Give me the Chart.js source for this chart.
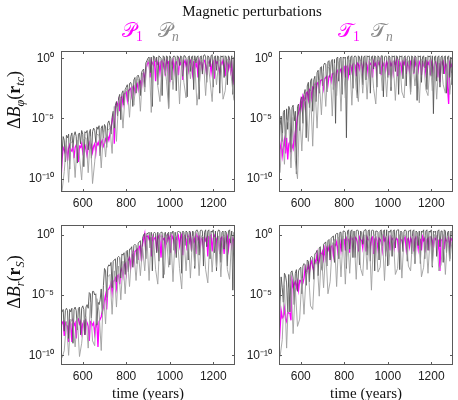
<!DOCTYPE html>
<html><head><meta charset="utf-8">
<script src="https://cdn.jsdelivr.net/npm/chart.js@4.4.1/dist/chart.umd.min.js"></script>
<style>
body{margin:0;background:#fff;}
#wrap{position:relative;width:458px;height:400px;overflow:hidden;background:#fff}
canvas{position:absolute;left:0;top:0}
.t{position:absolute;white-space:nowrap;font-family:'Liberation Serif','DejaVu Serif',serif;color:#111}
.t sub{font-size:68%;vertical-align:-0.3em;line-height:0}
.yl{width:200px;text-align:center;transform:rotate(-90deg);font-size:18px;line-height:22px}
.lg{font-size:20px;line-height:24px}
</style></head>
<body><div id="wrap">
<canvas id="c1" width="458" height="400"></canvas>
<canvas id="c2" width="458" height="400"></canvas>
<canvas id="c3" width="458" height="400"></canvas>
<canvas id="c4" width="458" height="400"></canvas>
<div class="t" style="left:152px;top:3px;width:200px;text-align:center;font-size:15px;line-height:17px">Magnetic perturbations</div>
<div class="t lg" style="left:122px;top:18px;color:#ff00ff">𝒫<sub>1</sub></div>
<div class="t lg" style="left:158px;top:18px;color:#8a8a8a">𝒫<sub><i>n</i></sub></div>
<div class="t lg" style="left:338px;top:18px;color:#ff00ff">𝒯<sub>1</sub></div>
<div class="t lg" style="left:371px;top:18px;color:#8a8a8a">𝒯<sub><i>n</i></sub></div>
<div class="t yl" style="left:-86px;top:89px">Δ<i>B</i><sub><i>φ</i></sub>(<b>r</b><sub><i>tc</i></sub>)</div>
<div class="t yl" style="left:-86px;top:271px">Δ<i>B</i><sub><i>r</i></sub>(<b>r</b><sub><i>S</i></sub>)</div>
<div class="t" style="left:98px;top:385px;width:100px;text-align:center;font-size:15px;line-height:17px">time (years)</div>
<div class="t" style="left:316px;top:385px;width:100px;text-align:center;font-size:15px;line-height:17px">time (years)</div>
</div>
<script>
// ---- x positions (years) ----
const yearsF = [
 500,505,510,515,520,525,530,535,540,545,
 550,555,560,565,570,575,580,585,590,595,
 600,605,610,615,620,625,630,635,640,645,
 650,655,660,665,670,675,680,685,690,695,
 700,705,710,715,720,725,730,735,740,745,
 750,755,760,765,770,775,780,785,790,795,
 800,805,810,815,820,825,830,835,840,845,
 850,855,860,865,870,875,880,885,890,895,
 900,905,910,915,920,925,930,935,940,945,
 950,955,960,965,970,975,980,985,990,995,
 1000,1005,1010,1015,1020,1025,1030,1035,1040,1045,
 1050,1055,1060,1065,1070,1075,1080,1085,1090,1095,
 1100,1105,1110,1115,1120,1125,1130,1135,1140,1145,
 1150,1155,1160,1165,1170,1175,1180,1185,1190,1195,
 1200,1205,1210,1215,1220,1225,1230,1235,1240,1245,
 1250,1255,1260,1265,1270,1275,1280,1285,1290,1295,
 1300];
const yearsB = [
 505,515,525,535,545,555,565,575,585,595,
 605,615,625,635,645,655,665,675,685,695,
 705,715,725,735,745,755,765,775,785,795,
 805,815,825,835,845,855,865,875,885,895,
 905,915,925,935,945,955,965,975,985,995,
 1005,1015,1025,1035,1045,1055,1065,1075,1085,1095,
 1105,1115,1125,1135,1145,1155,1165,1175,1185,1195,
 1205,1215,1225,1235,1245,1255,1265,1275,1285,1295];

// ---- series values, stored as log10 of the perturbation ----
// ΔB_phi(r_tc), poloidal modes
const tcPnDark = [
 -10.5,-7.8,-6.5,-6.8,-8.6,-6.4,-6.6,-6.3,-9.2,-6.5,
 -6.2,-7.4,-6.4,-6.1,-6.5,-8.7,-6.3,-6.2,-7.1,-6.0,
 -6.3,-9.0,-6.1,-6.2,-6.0,-7.6,-6.2,-5.9,-8.3,-6.1,
 -5.8,-6.0,-7.0,-5.7,-5.9,-5.6,-8.1,-5.8,-5.6,-6.6,
 -5.5,-5.7,-7.4,-5.4,-5.2,-5.6,-6.3,-4.9,-4.4,-5.8,
 -3.9,-3.6,-4.8,-3.3,-3.0,-5.1,-2.9,-2.7,-3.9,-2.6,
 -2.4,-2.2,-3.6,-2.1,-2.0,-2.3,-4.0,-1.8,-1.6,-2.9,
 -1.5,-1.4,-1.7,-3.1,-1.2,-1.0,-0.9,-2.4,-0.4,-0.2,
 0.0,0.1,-1.2,0.1,-4.0,0.2,0.1,-0.3,0.1,-2.2,
 0.2,0.1,0.0,-3.1,0.2,0.1,-1.4,0.2,0.1,-4.1,
 0.2,0.0,-1.8,0.1,0.2,0.1,-2.7,0.2,0.1,-0.6,
 0.2,0.1,-1.5,0.2,0.2,0.0,-3.2,0.1,0.2,-1.1,
 0.1,0.2,-2.6,0.2,-0.4,0.1,0.2,-3.4,0.1,0.2,
 -1.3,0.2,0.3,0.1,-2.0,0.2,0.1,-0.7,0.2,0.3,
 -2.4,0.1,0.2,-1.0,0.2,0.1,-2.9,0.2,0.1,0.2,
 -1.6,0.2,0.1,-2.2,0.2,0.0,-0.8,0.2,-3.0,0.1,
 0.1];
const tcPnLight = [
 -11.0,-9.4,-7.0,-10.3,-6.9,-7.1,-9.9,-6.8,-8.2,-10.1,
 -6.7,-6.6,-9.5,-6.5,-10.4,-8.6,-6.3,-6.4,-9.1,-6.1,
 -8.2,-6.0,-5.8,-7.9,-4.0,-6.9,-3.5,-3.3,-5.8,-2.9,
 -2.4,-4.9,-2.1,-3.9,-1.8,-1.7,-4.4,-1.2,-2.8,-0.4,
 -0.1,-4.5,-0.2,-0.1,-2.3,-3.6,-0.1,-0.2,-1.9,-4.2,
 -0.1,-2.6,-0.2,-0.1,-3.8,-0.2,-2.0,-3.3,-0.1,-1.7,
 -0.1,-0.2,-3.9,-2.4,-0.1,-0.2,-3.1,-0.1,-1.8,-3.6,
 -0.1,-2.2,-0.2,-0.1,-3.4,-2.7,-0.1,-0.2,-1.9,-3.5];
const tcP1 = [
 -10.2,-8.4,-7.4,-7.6,-7.9,-7.3,-8.5,-7.5,-7.2,-7.6,
 -7.7,-7.3,-8.3,-7.4,-7.2,-7.5,-8.6,-7.3,-7.4,-7.1,
 -7.8,-7.3,-7.2,-7.6,-8.1,-7.3,-7.0,-7.4,-7.2,-7.8,
 -7.3,-7.1,-7.9,-7.0,-7.2,-6.9,-7.6,-7.0,-6.8,-7.3,
 -7.1,-6.7,-6.9,-6.5,-6.8,-6.3,-5.8,-5.2,-4.6,-7.1,
 -4.2,-3.7,-3.9,-3.5,-4.4,-3.3,-3.2,-3.8,-3.0,-2.9,
 -2.8,-3.5,-2.7,-2.6,-2.5,-3.1,-2.4,-2.3,-2.8,-2.2,
 -2.1,-2.6,-2.0,-1.9,-2.4,-1.6,-1.3,-1.9,-0.9,-0.6,
 -0.3,-0.5,-1.6,-0.2,-0.4,-0.6,-0.3,-1.9,-0.2,-0.5,
 -0.4,-1.2,-0.3,-0.2,-0.7,-0.3,-1.5,-0.2,-0.4,-0.3,
 -2.0,-0.3,-0.5,-0.2,-1.1,-0.4,-0.3,-0.6,-1.4,-0.2,
 -0.5,-0.3,-1.8,-0.4,-0.2,-0.6,-0.3,-1.0,-0.4,-0.2,
 -0.5,-1.3,-0.3,-0.2,-0.7,-0.4,-1.6,-0.2,-0.5,-0.3,
 -1.0,-0.3,-0.2,-0.6,-1.4,-0.3,-0.4,-0.2,-1.2,-0.5,
 -0.3,-1.7,-0.2,-0.4,-0.3,-0.8,-1.2,-0.3,-0.5,-0.2,
 -0.6,-1.5,-0.3,-0.4,-0.9,-0.3,-1.1,-0.5,-2.2,-1.4,
 -0.7];

// ΔB_phi(r_tc), toroidal modes
const tcTnDark = [
 -8.0,-5.6,-4.8,-6.9,-4.5,-4.3,-7.4,-4.2,-5.9,-4.0,
 -4.3,-7.8,-4.1,-3.9,-5.2,-4.4,-9.6,-4.0,-3.8,-6.0,
 -3.5,-3.2,-5.4,-3.0,-2.6,-6.6,-2.3,-2.0,-4.1,-1.9,
 -1.7,-4.4,-1.8,-1.5,-3.6,-1.2,-1.0,-2.9,-0.8,-0.7,
 -2.3,-0.6,-0.4,-0.5,-2.8,-0.3,-0.2,-1.6,-0.3,-0.1,
 -2.6,-0.1,-5.4,0.0,0.1,-1.9,0.0,0.1,-3.0,0.1,
 0.0,0.1,-6.6,0.1,0.2,-1.4,0.1,0.2,-2.5,0.1,
 0.2,0.1,-3.3,0.2,0.1,-0.6,0.2,-2.2,0.1,0.2,
 -1.8,0.2,0.1,0.2,-2.9,0.1,0.2,-0.9,0.2,0.1,
 -2.4,0.2,0.1,-1.3,0.2,0.2,-3.2,0.1,0.2,0.1,
 -1.6,0.2,0.1,-2.7,0.2,0.1,0.2,-1.1,0.2,0.1,
 -3.0,0.2,0.1,0.2,-1.7,0.1,0.2,-2.3,0.1,0.2,
 0.1,-2.8,0.2,0.1,-1.2,0.2,0.1,-3.5,0.2,0.1,
 0.2,-2.0,0.1,0.2,-0.8,0.1,-2.6,0.2,0.1,0.2,
 -1.5,0.2,-4.6,0.1,0.2,-1.9,0.1,0.2,-2.4,0.1,
 0.2,-1.3,0.1,0.2,-2.9,0.1,0.2,-1.6,0.1,-2.2,
 0.2];
const tcTnLight = [
 -9.5,-6.2,-8.8,-5.1,-5.4,-9.1,-4.9,-8.5,-10.0,-4.6,
 -7.7,-3.7,-3.4,-6.9,-2.7,-7.3,-2.2,-5.8,-1.8,-4.7,
 -1.1,-4.0,-0.8,-0.7,-4.8,-0.4,-3.1,-0.3,-4.4,-0.2,
 -3.3,-0.1,-0.2,-3.9,-0.1,-2.6,-3.6,-0.2,-2.9,-0.1,
 -3.4,-0.2,-0.1,-2.5,-3.8,-0.2,-0.1,-2.7,-0.2,-3.2,
 -0.1,-2.4,-0.2,-3.5,-0.1,-0.2,-2.8,-3.3,-0.1,-0.2,
 -3.0,-0.1,-2.3,-0.2,-3.7,-0.1,-0.2,-2.6,-3.1,-0.1,
 -2.7,-0.2,-3.4,-0.1,-0.2,-2.2,-2.9,-0.1,-3.0,-1.2];
const tcT1 = [
 -9.3,-7.6,-7.0,-8.1,-7.4,-6.8,-7.9,-6.6,-8.4,-7.1,
 -6.9,-7.7,-7.2,-7.5,-6.4,-7.0,-5.6,-4.8,-4.5,-4.2,
 -3.5,-4.1,-3.1,-3.3,-4.0,-2.9,-2.8,-3.4,-2.6,-2.7,
 -3.3,-2.4,-2.5,-2.2,-2.9,-2.1,-2.0,-2.6,-1.9,-1.8,
 -1.8,-2.5,-1.7,-1.6,-1.5,-2.2,-1.5,-1.4,-1.9,-1.3,
 -1.3,-1.2,-2.0,-1.1,-1.0,-1.6,-1.0,-0.9,-1.5,-0.8,
 -0.7,-1.6,-0.7,-0.6,-1.4,-0.5,-0.6,-1.1,-0.5,-0.4,
 -0.6,-1.5,-0.4,-0.5,-0.9,-0.3,-0.5,-1.2,-0.4,-0.6,
 -0.4,-0.6,-1.3,-0.3,-0.5,-0.4,-1.6,-0.3,-0.6,-0.4,
 -1.1,-0.3,-0.5,-0.2,-1.4,-0.4,-0.6,-0.3,-1.0,-0.3,
 -0.5,-1.4,-0.3,-0.6,-0.4,-1.2,-0.3,-0.5,-0.2,-1.5,
 -0.3,-0.6,-0.4,-1.1,-0.3,-0.5,-0.2,-1.3,-0.4,-0.6,
 -1.1,-0.3,-0.5,-0.3,-1.3,-0.2,-0.6,-0.4,-1.0,-0.3,
 -0.5,-1.4,-0.3,-0.6,-0.4,-1.2,-0.3,-0.5,-0.3,-1.4,
 -0.3,-0.6,-1.2,-0.4,-0.3,-0.7,-1.6,-0.4,-2.0,-0.3,
 -0.5,-0.3,-1.3,-0.4,-0.6,-2.4,-3.8,-0.4,-0.7,-0.5,
 -1.0];

// ΔB_r(r_S), poloidal modes
const sPnDark = [
 -6.5,-6.4,-6.2,-8.0,-6.3,-6.1,-6.3,-8.6,-6.2,-6.4,
 -6.1,-9.0,-6.2,-6.0,-6.3,-7.9,-6.1,-6.0,-8.3,-6.1,
 -5.9,-6.2,-8.3,-6.0,-5.8,-6.1,-4.8,-4.9,-6.9,-4.7,
 -4.7,-5.0,-4.9,-7.5,-5.6,-5.8,-5.4,-4.5,-6.6,-4.2,
 -2.8,-3.0,-5.2,-2.7,-2.5,-2.6,-2.3,-4.4,-2.2,-2.1,
 -2.0,-3.9,-1.9,-1.8,-1.9,-3.6,-1.6,-1.7,-1.5,-3.3,
 -1.4,-1.3,-3.1,-1.2,-1.2,-1.0,-2.7,-0.9,-0.8,-0.9,
 -2.4,-0.7,-0.6,-0.5,-2.2,-0.3,0.0,0.1,-2.0,0.1,
 0.1,0.2,-1.1,0.2,-3.0,0.1,0.2,0.1,-1.5,0.2,
 -2.2,0.1,0.2,0.2,-3.6,0.1,0.2,-0.8,0.1,0.2,
 -2.5,0.2,0.1,0.3,-1.3,0.2,-1.9,0.2,0.3,0.2,
 0.2,-3.2,0.3,0.2,-0.9,0.3,0.2,-2.1,0.3,0.2,
 -1.4,0.3,0.2,-2.8,0.3,0.4,0.2,-1.7,0.3,0.4,
 0.3,-2.6,0.2,0.4,-1.0,0.3,0.4,-2.0,0.3,0.2,
 0.4,-1.5,0.3,-3.0,0.2,0.4,0.3,-2.3,0.2,0.3,
 -1.2,0.3,0.2,-2.6,0.3,0.4,-0.7,0.3,-4.6,0.2,
 0.2];
const sPnLight = [
 -10.2,-9.6,-7.2,-10.0,-7.0,-7.3,-9.3,-6.9,-10.1,-9.0,
 -7.1,-6.8,-9.4,-5.6,-8.8,-9.2,-5.3,-6.4,-9.6,-4.8,
 -7.4,-3.5,-3.3,-6.6,-3.0,-6.0,-2.6,-5.4,-2.2,-4.9,
 -1.9,-4.3,-1.6,-1.4,-3.8,-1.3,-3.4,-1.0,-3.0,-0.2,
 -3.8,-0.1,-0.2,-2.9,-4.1,-0.1,-0.2,-3.3,-0.1,-2.7,
 -0.2,-3.9,-0.1,-0.2,-2.8,-4.5,-0.1,-3.0,-0.2,-3.6,
 -0.1,-2.6,-0.2,-3.4,-0.1,-0.2,-2.9,-4.0,-0.1,-3.1,
 -0.2,-2.7,-0.1,-3.5,-0.2,-0.1,-2.9,-3.7,-0.1,-4.4];
const sP1 = [
 -7.6,-7.3,-7.2,-8.4,-7.3,-7.5,-7.6,-8.9,-7.2,-7.4,
 -8.9,-7.2,-7.5,-7.3,-8.6,-7.1,-7.0,-7.4,-7.2,-8.1,
 -7.4,-7.2,-8.3,-7.1,-7.3,-7.6,-8.8,-7.2,-7.3,-7.5,
 -7.3,-8.2,-7.5,-7.4,-9.3,-7.2,-7.0,-6.8,-6.4,-6.0,
 -5.4,-5.0,-6.2,-4.6,-4.5,-4.3,-4.0,-4.8,-3.9,-3.8,
 -3.6,-4.4,-3.4,-3.3,-4.1,-3.0,-2.8,-3.4,-2.5,-2.4,
 -3.2,-2.2,-2.1,-1.9,-2.7,-1.8,-1.5,-2.3,-1.4,-1.3,
 -1.2,-2.1,-1.0,-0.9,-2.2,-0.8,-0.3,0.1,-1.3,-0.2,
 -0.1,-0.4,-0.3,-1.8,-0.2,-0.5,-0.3,-0.2,-1.4,-0.3,
 -0.1,-0.6,-1.9,-0.2,-0.4,-0.3,-1.1,-0.2,-0.5,-0.1,
 -0.4,-1.5,-0.1,-0.3,-0.5,-1.2,-0.2,-0.4,-0.1,-0.9,
 -0.2,0.0,-1.7,-0.3,-0.1,-0.4,-1.3,-0.2,-0.6,-0.1,
 -1.3,-0.2,-0.6,-0.3,-1.6,-0.1,-0.4,-0.2,-1.1,-0.3,
 -0.4,-1.0,-0.2,-0.5,-0.3,-1.8,-0.2,-0.3,-0.1,-1.4,
 -0.3,-0.1,-1.4,-0.4,-0.2,-0.5,-1.6,-0.3,-0.2,-0.6,
 -1.6,-0.3,-0.6,-0.2,-1.2,-0.4,-0.5,-1.0,-0.3,-0.5,
 -1.9];

// ΔB_r(r_S), toroidal modes
const sTnDark = [
 -9.0,-5.5,-3.5,-4.4,-5.6,-3.2,-3.4,-4.0,-6.4,-3.3,
 -6.4,-3.1,-3.0,-3.6,-5.8,-3.2,-2.9,-4.7,-3.0,-2.8,
 -2.7,-4.9,-2.6,-2.4,-2.5,-4.2,-2.1,-2.2,-3.9,-1.9,
 -1.8,-1.9,-3.7,-1.6,-1.5,-1.3,-3.4,-1.1,-1.0,-2.8,
 -3.0,-0.8,-0.7,-0.6,-2.6,-0.5,-0.4,-2.1,-0.3,-0.2,
 -0.1,-2.3,0.0,0.1,0.1,-2.0,0.2,0.2,-1.4,0.3,
 0.3,0.2,-2.8,0.3,0.4,-1.2,0.3,0.4,-1.9,0.3,
 -1.9,0.3,0.4,0.3,-2.5,0.3,0.2,-0.8,0.3,0.4,
 0.4,-1.7,0.3,0.4,-2.2,0.3,0.4,0.3,-3.0,0.3,
 0.3,0.2,-2.1,0.3,0.4,-0.9,0.3,0.4,-1.8,0.4,
 -2.6,0.3,0.2,0.4,-1.8,0.3,0.4,-1.1,0.3,0.4,
 0.4,-2.9,0.3,0.2,-1.4,0.3,0.4,0.3,-2.2,0.3,
 0.3,0.4,-1.6,0.3,0.4,-2.4,0.3,0.2,-0.9,0.3,
 -2.4,0.3,0.2,0.4,-2.0,0.3,0.4,-1.3,0.3,0.2,
 0.4,-2.7,0.3,0.2,0.3,-1.8,0.3,0.4,-1.0,0.3,
 0.3,-2.3,0.4,0.3,-1.5,0.2,0.3,-2.0,0.3,0.2,
 -1.5];
const sTnLight = [
 -10.1,-8.7,-4.2,-9.4,-4.5,-3.8,-8.2,-4.4,-7.6,-7.0,
 -3.6,-6.6,-3.2,-2.9,-5.9,-6.2,-2.5,-2.2,-5.1,-1.6,
 -4.4,-1.2,-4.9,-3.9,-0.8,-0.4,-4.3,-0.2,-3.5,-0.1,
 -4.1,0.0,-3.2,-0.1,-0.1,-3.7,0.0,-2.8,-3.4,0.0,
 -2.9,-0.1,-4.6,0.0,-0.1,-3.1,-2.7,0.0,-3.8,-0.1,
 -2.5,0.0,-0.1,-3.3,-2.8,0.0,-3.6,-0.1,0.0,-2.6,
 -3.0,-0.1,-2.4,0.0,-0.1,-3.5,-2.7,0.0,-3.2,-0.1,
 -2.6,0.0,-0.1,-3.0,-2.5,0.0,-3.3,-0.1,-2.2,-0.6];
const sT1 = [
 -9.4,-7.8,-6.3,-6.9,-6.8,-6.1,-7.0,-7.2,-6.4,-6.5,
 -6.5,-7.1,-3.8,-4.3,-4.1,-3.9,-4.4,-3.9,-4.6,-3.8,
 -3.8,-4.2,-4.0,-3.6,-2.8,-3.4,-2.9,-2.5,-3.1,-2.4,
 -2.2,-2.7,-3.0,-2.1,-2.3,-1.6,-2.5,-2.2,-1.5,-1.7,
 -1.4,-2.0,-1.2,-1.9,-1.1,-1.3,-1.0,-1.8,-1.0,-0.9,
 -1.7,-0.8,-0.9,-0.6,-1.4,-0.7,-0.5,-1.3,-0.5,-0.4,
 -0.4,-1.3,-0.3,-0.5,-0.4,-1.5,-0.2,-0.4,-0.3,-1.1,
 -0.2,-0.3,-0.6,-1.4,-0.2,-0.4,-0.5,-1.1,-0.3,-0.6,
 -1.4,-0.2,-0.4,-0.5,-1.0,-0.3,-0.2,-1.6,-0.4,-0.2,
 -0.5,-1.2,-0.3,-0.4,-0.6,-1.3,-0.2,-0.5,-0.3,-1.1,
 -0.6,-0.3,-1.3,-0.2,-0.4,-0.3,-1.1,-0.5,-0.3,-0.4,
 -1.5,-0.2,-0.4,-0.5,-1.0,-0.3,-0.2,-1.2,-0.4,-0.3,
 -1.0,-0.3,-0.6,-0.2,-1.4,-0.4,-0.2,-0.5,-1.2,-0.3,
 -0.4,-1.3,-0.2,-0.5,-0.3,-1.1,-0.4,-0.3,-1.3,-0.2,
 -0.2,-0.5,-1.1,-0.3,-0.4,-0.2,-1.2,-0.4,-3.0,-0.5,
 -0.4,-0.2,-1.2,-0.3,-0.5,-0.6,-0.3,-1.0,-0.3,-0.4,
 -0.9];

// ---- ticks ----
const xTickValues = [600, 800, 1000, 1200];
const yTickExponents = [-10, -5, 0];
const yTickLabels = ['10\u207B\u00B9\u2070', '10\u207B\u2075', '10\u2070'];

const YW = 50, XH = 20;
const boxPlugin = {
  id: 'boxFrame',
  afterDatasetsDraw(chart) {
    const {ctx, chartArea: a, scales: {x, y}} = chart;
    ctx.save();
    ctx.strokeStyle = '#5a5a5a';
    ctx.lineWidth = 1;
    ctx.strokeRect(a.left + 0.5, a.top + 0.5, a.right - a.left - 1, a.bottom - a.top - 1);
    ctx.beginPath();
    x.ticks.forEach(t => {
      const p = Math.round(x.getPixelForValue(t.value)) + 0.5;
      ctx.moveTo(p, a.bottom); ctx.lineTo(p, a.bottom - 3);
      ctx.moveTo(p, a.top); ctx.lineTo(p, a.top + 3);
    });
    y.ticks.forEach(t => {
      const p = Math.round(y.getPixelForValue(t.value)) + 0.5;
      ctx.moveTo(a.left, p); ctx.lineTo(a.left + 3, p);
      ctx.moveTo(a.right, p); ctx.lineTo(a.right - 3, p);
    });
    ctx.stroke();
    ctx.restore();
  }
};

function pts(xs, vs) { return xs.map((x, i) => ({x: x, y: Math.pow(10, vs[i])})); }

function makePanel(id, box, yLo, yHi, dark, light, mag) {
  const ds = (data, color, w) => ({data, borderColor: color, borderWidth: w, pointRadius: 0, tension: 0, fill: false});
  new Chart(document.getElementById(id), {
    type: 'line',
    data: {datasets: [
      ds(pts(yearsB, light), 'rgba(160,160,160,0.9)', 1),
      ds(pts(yearsF, dark), 'rgba(85,85,85,0.9)', 1),
      ds(pts(yearsF, mag), '#ff00ff', 1.3)
    ]},
    options: {
      responsive: false, animation: false, events: [],
      layout: {padding: {left: box.l - YW, right: 458 - box.r, top: box.t, bottom: 400 - box.b - XH}},
      plugins: {legend: {display: false}, tooltip: {enabled: false}, title: {display: false}},
      scales: {
        x: {
          type: 'linear', min: 500, max: 1300,
          afterBuildTicks: s => { s.ticks = xTickValues.map(v => ({value: v})); },
          afterFit: s => { s.height = XH; },
          grid: {display: false, drawTicks: false}, border: {display: false},
          ticks: {padding: 4, color: '#222', font: {family: 'Liberation Sans', size: 12}, maxRotation: 0, autoSkip: false,
            callback: (v) => String(v)}
        },
        y: {
          type: 'logarithmic', min: Math.pow(10, yLo), max: Math.pow(10, yHi),
          afterBuildTicks: s => { s.ticks = yTickExponents.map(e => ({value: Math.pow(10, e)})); },
          afterFit: s => { s.width = YW; },
          grid: {display: false, drawTicks: false}, border: {display: false},
          ticks: {padding: 7, color: '#222', font: {family: 'Liberation Sans', size: 12}, autoSkip: false,
            callback: (v, i) => yTickLabels[i]}
        }
      }
    },
    plugins: [boxPlugin]
  });
}

makePanel('c1', {l: 61, r: 235, t: 51, b: 192}, -11.1, 0.6, tcPnDark, tcPnLight, tcP1);
makePanel('c2', {l: 279, r: 453, t: 51, b: 192}, -11.1, 0.6, tcTnDark, tcTnLight, tcT1);
makePanel('c3', {l: 61, r: 235, t: 225, b: 365}, -10.8, 0.8, sPnDark, sPnLight, sP1);
makePanel('c4', {l: 279, r: 453, t: 225, b: 365}, -10.8, 0.8, sTnDark, sTnLight, sT1);
</script>
</body></html>
